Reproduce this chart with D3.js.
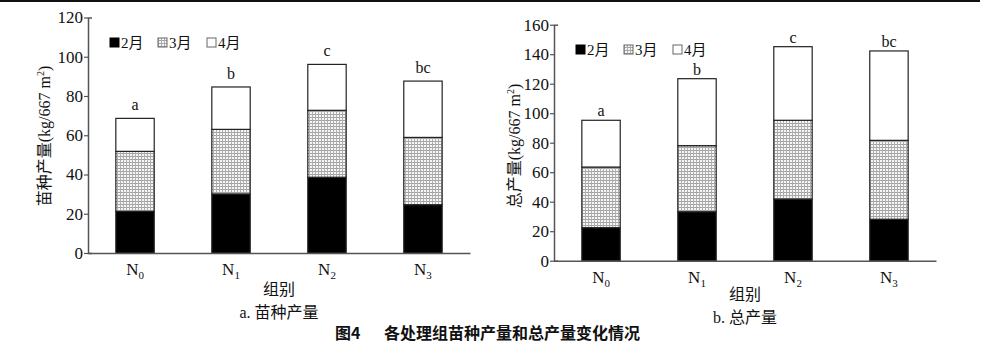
<!DOCTYPE html>
<html>
<head>
<meta charset="utf-8">
<script src="https://cdn.jsdelivr.net/npm/d3@7"></script>
<style>
  body { margin: 0; background: #fff; }
  svg { display: block; }
  text { font-family: "Liberation Serif", "Times New Roman", "Noto Sans CJK SC", serif; fill: #111; }
</style>
</head>
<body>
<div id="chart"></div>
<script>
// data
const groups = ["N0", "N1", "N2", "N3"];
const months = ["2月", "3月", "4月"];
// a. seedling yield
const seedFeb = [21.2, 30.1, 38.6, 24.6];
const seedMar = [30.6, 32.9, 34.1, 34.3];
const seedApr = [16.8, 21.6, 23.4, 28.7];
const seedLetters = ["a", "b", "c", "bc"];
// b. total yield
const totalFeb = [22.4, 33.2, 41.8, 28.1];
const totalMar = [41.1, 44.8, 53.4, 53.5];
const totalApr = [31.7, 45.4, 49.9, 60.6];
const totalLetters = ["a", "b", "c", "bc"];
const seedTicks = [0, 20, 40, 60, 80, 100, 120];
const totalTicks = [0, 20, 40, 60, 80, 100, 120, 140, 160];

const W = 1000, H = 360;
const svg = d3.select("#chart").append("svg")
    .attr("width", W)
    .attr("height", H);

// hatch pattern for March
const defs = svg.append("defs");
const pat = defs.append("pattern")
    .attr("id", "grid")
    .attr("patternUnits", "userSpaceOnUse")
    .attr("width", 3)
    .attr("height", 3);
pat.append("rect").attr("width", 3).attr("height", 3).attr("fill", "#f6f6f6");
pat.append("rect").attr("x", 0).attr("y", 0).attr("width", 3).attr("height", 1).attr("fill", "#a2a2a2");
pat.append("rect").attr("x", 0).attr("y", 0).attr("width", 1).attr("height", 3).attr("fill", "#aeaeae");

const fills = ["#000", "url(#grid)", "#fff"];

// top rule
svg.append("line")
    .attr("x1", 0).attr("x2", 980)
    .attr("y1", 1).attr("y2", 1)
    .attr("stroke", "#111")
    .attr("stroke-width", 2);

function drawPanel(cfg) {
    const g = svg.append("g");
    const x = d3.scaleBand()
        .domain(groups)
        .range([cfg.x0, cfg.x1])
        .paddingInner(0.6)
        .paddingOuter(0.29);
    const y = d3.scaleLinear()
        .domain([0, cfg.max])
        .range([cfg.y0, cfg.yTop]);

    const rows = groups.map((grp, i) => ({
        group: grp, "2月": cfg.feb[i], "3月": cfg.mar[i], "4月": cfg.apr[i]
    }));
    const stacked = d3.stack().keys(months)(rows);

    g.selectAll("g.layer")
        .data(stacked)
        .join("g")
            .attr("class", "layer")
            .attr("fill", (d, i) => fills[i])
        .selectAll("rect")
        .data(d => d)
        .join("rect")
            .attr("x", d => x(d.data.group))
            .attr("y", d => y(d[1]))
            .attr("width", x.bandwidth())
            .attr("height", d => y(d[0]) - y(d[1]))
            .attr("stroke", "#222")
            .attr("stroke-width", 1.2);

    // significance letters
    g.selectAll("text.sig")
        .data(rows)
        .join("text")
            .attr("class", "sig")
            .attr("x", d => x(d.group) + x.bandwidth() / 2)
            .attr("y", d => y(d["2月"] + d["3月"] + d["4月"]) - cfg.sigGap)
            .attr("text-anchor", "middle")
            .attr("font-size", 16)
            .text((d, i) => cfg.letters[i]);

    // axes
    const yAxis = g.append("g")
        .attr("transform", `translate(${cfg.x0},0)`)
        .call(d3.axisLeft(y).tickValues(cfg.ticks).tickSize(4).tickSizeOuter(-4));
    const xAxis = g.append("g")
        .attr("transform", `translate(0,${cfg.y0})`)
        .call(d3.axisBottom(x).tickSize(0).tickSizeOuter(0));
    [yAxis, xAxis].forEach(a => {
        a.attr("font-family", null);
        a.select(".domain").attr("stroke", "#555").attr("stroke-width", 1.5);
        a.selectAll(".tick line").attr("stroke", "#555").attr("stroke-width", 1.2);
    });
    yAxis.selectAll(".tick text")
        .attr("font-size", 17)
        .attr("fill", "#111")
        .attr("x", -5);
    xAxis.selectAll(".tick text")
        .attr("font-size", 17)
        .attr("fill", "#111")
        .attr("y", cfg.xLabelDy)
        .text(null)
        .each(function (d) {
            const t = d3.select(this);
            t.append("tspan").text(d.charAt(0));
            t.append("tspan").attr("font-size", 11).attr("dy", 4).text(d.slice(1));
        });

    // y title
    g.append("text")
        .attr("transform", `translate(${cfg.yTitleX},${cfg.yTitleY}) rotate(-90)`)
        .attr("text-anchor", "middle")
        .attr("font-size", 16)
        .call(t => {
            t.append("tspan").text(cfg.yTitle);
            t.append("tspan").attr("font-size", 10).attr("dy", -6).text("2");
            t.append("tspan").attr("dy", 6).text(")");
        });

    // x title + caption
    const cx = (cfg.x0 + cfg.x1) / 2;
    g.append("text")
        .attr("x", cx).attr("y", cfg.xTitleY)
        .attr("text-anchor", "middle")
        .attr("font-size", 16)
        .text("组别");
    g.append("text")
        .attr("x", cx).attr("y", cfg.capY)
        .attr("text-anchor", "middle")
        .attr("font-size", 16)
        .text(cfg.caption);

    // legend
    const leg = g.append("g")
        .attr("transform", `translate(${cfg.legX},${cfg.legY})`);
    const legStep = [0, 48, 97];
    months.forEach((m, i) => {
        leg.append("rect")
            .attr("x", legStep[i]).attr("y", -5)
            .attr("width", 9).attr("height", 9)
            .attr("fill", fills[i])
            .attr("stroke", i === 0 ? "#000" : "#666")
            .attr("stroke-width", 1);
        leg.append("text")
            .attr("x", legStep[i] + 11).attr("y", 5)
            .attr("font-size", 15)
            .text(m);
    });
}

drawPanel({
    x0: 88, x1: 470, y0: 253, yTop: 17.5, max: 120, ticks: seedTicks,
    feb: seedFeb, mar: seedMar, apr: seedApr, letters: seedLetters, sigGap: 8,
    yTitle: "苗种产量(kg/667 m", yTitleX: 50, yTitleY: 136,
    xLabelDy: 10, xTitleY: 295, capY: 318, caption: "a. 苗种产量",
    legX: 110, legY: 43
});

drawPanel({
    x0: 554, x1: 936, y0: 260.7, yTop: 24.7, max: 160, ticks: totalTicks,
    feb: totalFeb, mar: totalMar, apr: totalApr, letters: totalLetters, sigGap: 4,
    yTitle: "总产量(kg/667 m", yTitleX: 520, yTitleY: 146,
    xLabelDy: 10, xTitleY: 300, capY: 323, caption: "b. 总产量",
    legX: 576, legY: 50
});

// figure title
const titleG = svg.append("g")
    .attr("font-family", "Noto Sans CJK SC")
    .attr("font-weight", "bold")
    .attr("font-size", 16);
titleG.append("text")
    .attr("x", 335).attr("y", 339)
    .style("font-family", "Noto Sans CJK SC")
    .text("图4");
titleG.append("text")
    .attr("x", 384).attr("y", 339)
    .style("font-family", "Noto Sans CJK SC")
    .text("各处理组苗种产量和总产量变化情况");
</script>
</body>
</html>
